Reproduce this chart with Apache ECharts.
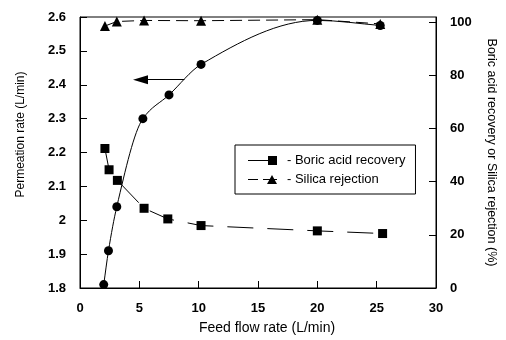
<!DOCTYPE html>
<html>
<head>
<meta charset="utf-8">
<script src="https://cdn.jsdelivr.net/npm/echarts@6/dist/echarts.min.js"></script>
<style>
  html, body { margin: 0; padding: 0; background: #fff; }
  #main { width: 506px; height: 340px; }
</style>
</head>
<body>
<div id="main"></div>
<script>
// feed flow rate (L/min) vs permeation rate (L/min), left axis
const permFlow = [2, 2.4, 3.1, 5.3, 7.5, 10.2, 20, 25.3]
const permRate = [1.81, 1.91, 2.04, 2.30, 2.37, 2.46, 2.59, 2.575]
// boric acid recovery (%), right axis
const boricFlow = [2.1, 2.45, 3.15, 5.4, 7.4, 10.2, 20, 25.5]
const boricRecovery = [52.5, 44.5, 40.5, 30, 26, 23.5, 21.5, 20.5]
// silica rejection (%), right axis
const silicaFlow = [2.1, 3.1, 5.4, 10.2, 20, 25.3]
const silicaRejection = [98.6, 100.3, 100.7, 100.6, 101, 99.4]
// arrow pointing to the left axis
const arrowFrom = [8.8, 2.415]
const arrowTo = [5.1, 2.415]

const zip = (xs, ys) => xs.map((x, i) => [x, ys[i]])

const font = 'Liberation Sans, Arial, sans-serif'
const black = '#000'

// tangents for a shape-preserving cubic through the points (Fritsch-Carlson)
const slopes = (xs, ys) => {
  const n = xs.length
  const h = [], d = []
  for (let i = 0; i < n - 1; i++) {
    h.push(xs[i + 1] - xs[i])
    d.push((ys[i + 1] - ys[i]) / h[i])
  }
  return xs.map((x, i) => {
    if (i === 0) return d[0]
    if (i === n - 1) return d[n - 2]
    const a = d[i - 1], b = d[i]
    if (a * b <= 0) return 0
    const w1 = 2 * h[i] + h[i - 1]
    const w2 = h[i] + 2 * h[i - 1]
    return (w1 + w2) / (w1 / a + w2 / b)
  })
}

// draws the permeation curve as cubic segments, all points go through api.coord
const renderCurve = (params, api) => {
  if (params.dataIndex !== 0) return null
  const m = slopes(permFlow, permRate)
  const children = []
  for (let i = 0; i < permFlow.length - 1; i++) {
    const x0 = permFlow[i]
    const x1 = permFlow[i + 1]
    const d = (x1 - x0) / 3
    const p0 = api.coord([x0, permRate[i]])
    const c0 = api.coord([x0 + d, permRate[i] + m[i] * d])
    const c1 = api.coord([x1 - d, permRate[i + 1] - m[i + 1] * d])
    const p1 = api.coord([x1, permRate[i + 1]])
    children.push({
      type: 'bezierCurve',
      shape: { x1: p0[0], y1: p0[1], cpx1: c0[0], cpy1: c0[1], cpx2: c1[0], cpy2: c1[1], x2: p1[0], y2: p1[1] },
      style: { fill: null, stroke: black, lineWidth: 1 },
    })
  }
  return { type: 'group', children }
}

const tickLabel = { margin: 14, fontSize: 13, fontWeight: 'bold', color: black }

const myChart = echarts.init(document.getElementById('main'))

// ===================== option =====================
const option = {
  animation: false,
  textStyle: { fontFamily: font, color: black },
  grid: {
    left: 80,
    right: 65,
    top: 17,
    bottom: 52,
    show: true,
    borderColor: black,
    borderWidth: 1,
  },
  legend: {
    orient: 'vertical',
    left: 235,
    top: 145,
    padding: [9, 10, 8, 13],
    itemGap: 6,
    itemWidth: 29,
    itemHeight: 9,
    backgroundColor: '#fff',
    borderColor: black,
    borderWidth: 1,
    textStyle: { fontSize: 13, color: black, padding: [0, 0, 0, 5] },
    data: [
      {
        name: '- Boric acid recovery',
        // line then square at the right end
        icon: 'path://M0,4 L24,4 L24,5 L0,5 Z M20,0 L29,0 L29,9 L20,9 Z',
      },
      {
        name: '- Silica rejection',
        // dash, then triangle
        icon: 'path://M0,4 L10,4 L10,5 L0,5 Z M15,4 L29,4 L29,5 L15,5 Z M19,9 L24,0 L29,9 Z',
      },
    ],
  },
  xAxis: {
    type: 'value',
    min: 0,
    max: 30,
    interval: 5,
    name: 'Feed flow rate (L/min)',
    nameLocation: 'middle',
    nameGap: 33,
    nameTextStyle: { fontSize: 14, color: black, padding: [0, 0, 0, 18] },
    axisLine: { show: true, lineStyle: { color: black, width: 1 } },
    axisTick: { show: true, inside: true, length: 7, lineStyle: { color: black } },
    axisLabel: tickLabel,
    splitLine: { show: false },
  },
  yAxis: [
    {
      type: 'value',
      position: 'left',
      min: 1.8,
      max: 2.6,
      interval: 0.1,
      name: 'Permeation rate (L/min)',
      nameLocation: 'middle',
      nameGap: 53,
      nameTextStyle: { fontSize: 12, color: black, padding: [0, 0, 0, 36] },
      axisLine: { show: true, lineStyle: { color: black, width: 1 } },
      axisTick: { show: true, inside: true, length: 7, lineStyle: { color: black } },
      axisLabel: tickLabel,
      splitLine: { show: false },
    },
    {
      type: 'value',
      position: 'right',
      min: 0,
      max: 102,
      interval: 20,
      name: 'Boric acid recovery or Silica rejection (%)',
      nameLocation: 'middle',
      nameRotate: -90,
      nameGap: 49,
      nameTextStyle: { fontSize: 12.5, color: black },
      axisLine: { show: true, lineStyle: { color: black, width: 1 } },
      axisTick: { show: true, inside: true, length: 7, lineStyle: { color: black } },
      axisLabel: { ...tickLabel, showMaxLabel: false },
      splitLine: { show: false },
    },
  ],
  series: [
    {
      name: 'Permeation curve',
      type: 'custom',
      yAxisIndex: 0,
      data: zip(permFlow, permRate),
      renderItem: renderCurve,
      silent: true,
      z: 1,
    },
    {
      name: 'Permeation rate',
      type: 'line',
      yAxisIndex: 0,
      data: zip(permFlow, permRate),
      symbol: 'circle',
      symbolSize: 9,
      itemStyle: { color: black },
      lineStyle: { width: 0, opacity: 0 },
      z: 3,
      markLine: {
        silent: true,
        symbol: ['none', 'triangle'],
        symbolSize: [9, 15],
        label: { show: false },
        lineStyle: { color: black, width: 1, type: 'solid', opacity: 1 },
        data: [[{ coord: arrowFrom }, { coord: arrowTo }]],
      },
    },
    {
      name: '- Boric acid recovery',
      type: 'line',
      yAxisIndex: 1,
      data: zip(boricFlow, boricRecovery),
      symbol: 'rect',
      symbolSize: 9,
      itemStyle: { color: black },
      lineStyle: { color: black, width: 1, type: [26, 14] },
      z: 3,
    },
    {
      name: '- Silica rejection',
      type: 'line',
      yAxisIndex: 1,
      data: zip(silicaFlow, silicaRejection),
      symbol: 'triangle',
      symbolSize: 10,
      itemStyle: { color: black },
      lineStyle: { color: black, width: 1, type: [12, 6] },
      z: 2,
    },
  ],
}
myChart.setOption(option)
</script>
</body>
</html>
